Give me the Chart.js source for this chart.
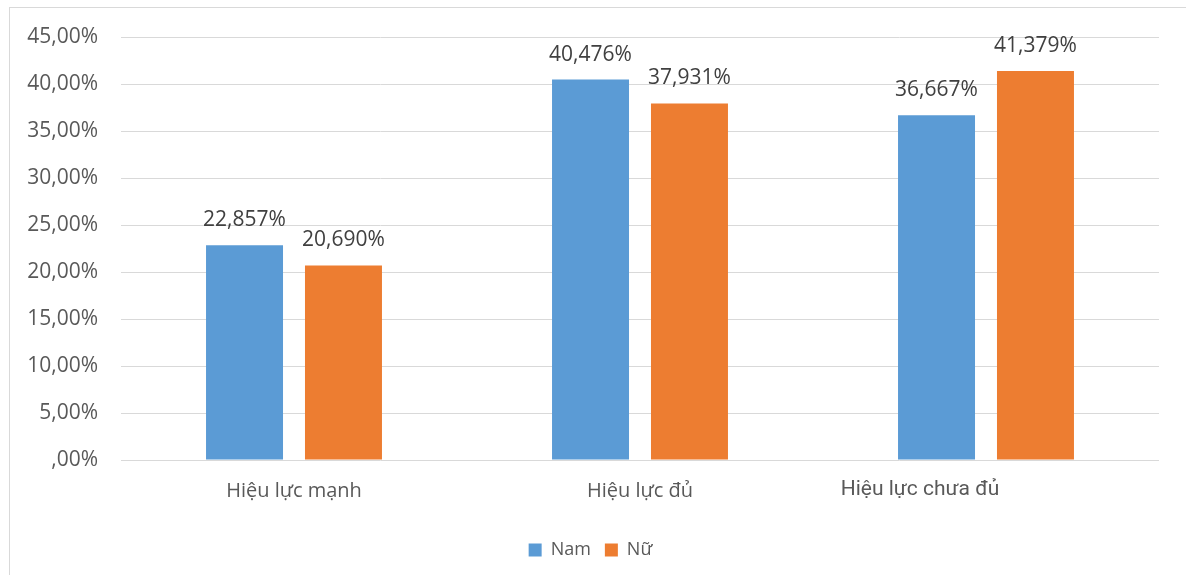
<!DOCTYPE html>
<html>
<head>
<meta charset="utf-8">
<script src="https://cdn.jsdelivr.net/npm/chart.js@4.4.0/dist/chart.umd.min.js"></script>
<style>
  html, body { margin: 0; padding: 0; background: #fff; }
  #wrap { position: relative; width: 1186px; height: 575px; overflow: hidden; }
  #frame { position: absolute; left: 9px; top: 7px; width: 1300px; height: 700px;
           border-top: 1px solid #d9d9d9; border-left: 1px solid #d9d9d9; }
  canvas { position: absolute; left: 0; top: 0; }
</style>
</head>
<body>
<div id="wrap">
  <div id="frame"></div>
  <canvas id="myChart" width="1186" height="575"></canvas>
</div>
<script>
var categories = ['Hiệu lực mạnh', 'Hiệu lực đủ', 'Hiệu lực chưa đủ'];
var nam_values = [22.857, 40.476, 36.667];
var nu_values  = [20.690, 37.931, 41.379];
var y_ticks    = [0, 5, 10, 15, 20, 25, 30, 35, 40, 45];

var FONT = '"Open Sans", "DejaVu Sans", sans-serif';

function fmt_axis(v){
  if(v === 0) return ',00%';
  return v.toFixed(2).replace('.', ',') + '%';
}
function fmt_label(v){
  return v.toFixed(3).replace('.', ',') + '%';
}

// values above bars + category names (last one is drawn off-centre like the original)
var bar_labels = {
  id: 'bar_labels',
  afterDatasetsDraw: function(chart){
    var ctx = chart.ctx;
    ctx.save();
    ctx.font = '21px ' + FONT;
    ctx.fillStyle = '#404040';
    ctx.textAlign = 'center';
    ctx.textBaseline = 'middle';
    chart.data.datasets.forEach(function(ds, i){
      chart.getDatasetMeta(i).data.forEach(function(bar, j){
        ctx.fillText(fmt_label(ds.data[j]), bar.x, bar.y - 25);
      });
    });

    var xs = chart.scales.x;
    ctx.fillStyle = '#595959';
    chart.data.labels.forEach(function(lbl, i){
      var x = xs.getPixelForTick(i);
      if(i === 2){
        ctx.font = '21px Roboto, sans-serif';
        ctx.fillText(lbl, x - 66, xs.top + 30);
      } else {
        ctx.font = '20px ' + FONT;
        ctx.fillText(lbl, x, xs.top + 31);
      }
    });
    ctx.restore();
  }
};

var ctx = document.getElementById('myChart');
window.chart = new Chart(ctx, {
  type: 'bar',
  data: {
    labels: categories,
    datasets: [{
      label: 'Nam',
      data: nam_values,
      backgroundColor: '#5b9bd5',
      categoryPercentage: 0.572,
      barPercentage: 0.778
    }, {
      label: 'Nữ',
      data: nu_values,
      backgroundColor: '#ed7d31',
      categoryPercentage: 0.572,
      barPercentage: 0.778
    }]
  },
  options: {
    responsive: false,
    animation: false,
    layout: { padding: { left: 22, right: 27, top: 37, bottom: 6 } },
    plugins: {
      tooltip: { enabled: false },
      legend: {
        position: 'bottom',
        labels: {
          boxWidth: 13, boxHeight: 13, padding: 14,
          color: '#595959',
          font: { size: 18, family: FONT }
        }
      }
    },
    scales: {
      x: {
        grid: { display: false },
        border: { display: false },
        ticks: { display: false },
        afterFit: function(s){ s.height = 67; }
      },
      y: {
        min: 0, max: 45,
        afterBuildTicks: function(s){
          s.ticks = y_ticks.map(function(v){ return { value: v }; });
        },
        grid: { color: '#d9d9d9', lineWidth: 1, drawTicks: false },
        border: { display: false },
        ticks: {
          color: '#595959',
          padding: 23,
          font: { size: 21, family: FONT },
          callback: function(v){ return fmt_axis(v); }
        },
        afterFit: function(s){ s.width = 99; }
      }
    }
  },
  plugins: [bar_labels]
});
</script>
</body>
</html>
